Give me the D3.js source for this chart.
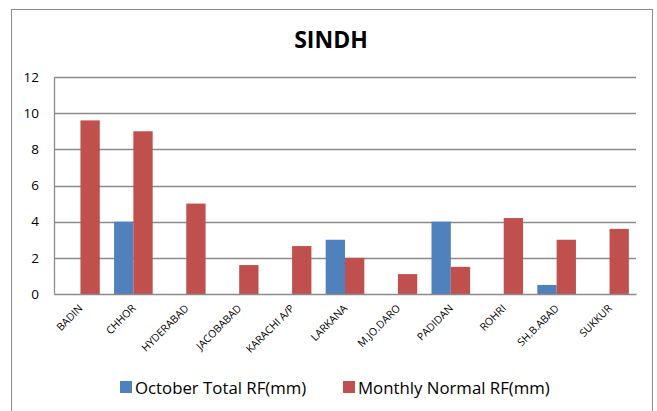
<!DOCTYPE html>
<html>
<head>
<meta charset="utf-8">
<script src="https://cdn.jsdelivr.net/npm/d3@7"></script>
<style>
  body { margin: 0; background: #fff; }
  text { font-family: "Open Sans", "Noto Sans", sans-serif; fill: #000; }
</style>
</head>
<body>
<div id="chart"></div>
<script>
let svgWidth = 657
let svgHeight = 411

let margin = { top: 77, right: 21, bottom: 117, left: 54 }
let w = svgWidth - margin.left - margin.right
let h = svgHeight - margin.top - margin.bottom

// data
let stations = ["BADIN", "CHHOR", "HYDERABAD", "JACOBABAD", "KARACHI A/P", "LARKANA",
    "M.JO.DARO", "PADIDAN", "ROHRI", "SH.B.ABAD", "SUKKUR"]
let octoberTotal = [0, 4, 0, 0, 0, 3, 0, 4, 0, 0.5, 0]
let monthlyNormal = [9.6, 9, 5, 1.6, 2.65, 2, 1.1, 1.5, 4.2, 3, 3.6]
let seriesNames = ["October Total RF(mm)", "Monthly Normal RF(mm)"]
let yTicks = [0, 2, 4, 6, 8, 10, 12]

let color = d3.scaleOrdinal()
    .domain(seriesNames)
    .range(["#4F81BD", "#C0504D"])

let rows = stations.map(function (s, i) {
    return { station: s, values: [octoberTotal[i], monthlyNormal[i]] }
})

let svg = d3.select("#chart")
    .append("svg")
    .attr("width", svgWidth)
    .attr("height", svgHeight)

// chart frame
svg.append("rect")
    .attr("x", 11.5)
    .attr("y", 9.5)
    .attr("width", 641)
    .attr("height", 420)
    .attr("fill", "none")
    .attr("stroke", "#8c8c8c")

// title
svg.append("text")
    .attr("x", 331)
    .attr("y", 48)
    .attr("text-anchor", "middle")
    .attr("font-size", 23)
    .attr("font-weight", "bold")
    .text("SINDH")

let g = svg.append("g")
    .attr("transform", "translate(" + margin.left + "," + margin.top + ")")

let xScale = d3.scaleBand()
    .domain(stations)
    .range([0, w])
    .paddingInner(0.27)
    .paddingOuter(0.135)

let xSub = d3.scaleBand()
    .domain([0, 1])
    .range([0, xScale.bandwidth()])

let yScale = d3.scaleLinear()
    .domain([0, 12])
    .range([h, 0])

// gridlines
g.append("g")
    .selectAll("line")
    .data(yTicks.slice(1))
    .enter().append("line")
    .attr("x1", 0)
    .attr("x2", w)
    .attr("y1", function (d) { return Math.round(yScale(d)) + 0.5 })
    .attr("y2", function (d) { return Math.round(yScale(d)) + 0.5 })
    .attr("stroke", "#8a8a8a")
    .attr("stroke-width", 1.3)

// y axis
let yAxis = d3.axisLeft(yScale)
    .tickValues(yTicks)
    .tickSize(0)
    .tickPadding(15)

let yG = g.append("g").call(yAxis)
yG.select(".domain").attr("stroke", "#8a8a8a").attr("stroke-width", 1.3)
yG.selectAll("text").attr("font-size", 13.5).style("font-family", "'Open Sans', sans-serif")

// bars
let groups = g.selectAll(".grp")
    .data(rows)
    .enter().append("g")
    .attr("class", "grp")
    .attr("transform", function (d) { return "translate(" + xScale(d.station) + ",0)" })

groups.selectAll("rect")
    .data(function (d) { return d.values })
    .enter().append("rect")
    .attr("x", function (d, i) { return xSub(i) })
    .attr("width", xSub.bandwidth())
    .attr("y", function (d) { return yScale(d) })
    .attr("height", function (d) { return h - yScale(d) })
    .attr("fill", function (d, i) { return color(seriesNames[i]) })

// x axis
let xAxis = d3.axisBottom(xScale)
    .tickSize(0)
    .tickSizeOuter(0)

let xG = g.append("g")
    .attr("transform", "translate(0," + h + ")")
    .call(xAxis)
xG.select(".domain").attr("stroke", "#8a8a8a").attr("stroke-width", 1.3)
xG.selectAll("text")
    .attr("font-size", 10.5)
    .style("font-family", "'Open Sans', sans-serif")
    .attr("text-anchor", "end")
    .attr("dy", 0)
    .attr("y", 0)
    .attr("transform", "translate(3,15) rotate(-45)")

// legend
let legendX = [120, 343]
let legend = svg.append("g")
    .selectAll("g")
    .data(seriesNames)
    .enter().append("g")
    .attr("transform", function (d, i) { return "translate(" + legendX[i] + ",381)" })

legend.append("rect")
    .attr("width", 12)
    .attr("height", 12)
    .attr("fill", function (d) { return color(d) })

legend.append("text")
    .attr("x", 15)
    .attr("y", 12.5)
    .attr("font-size", 16.8)
    .text(function (d) { return d })
</script>
</body>
</html>
